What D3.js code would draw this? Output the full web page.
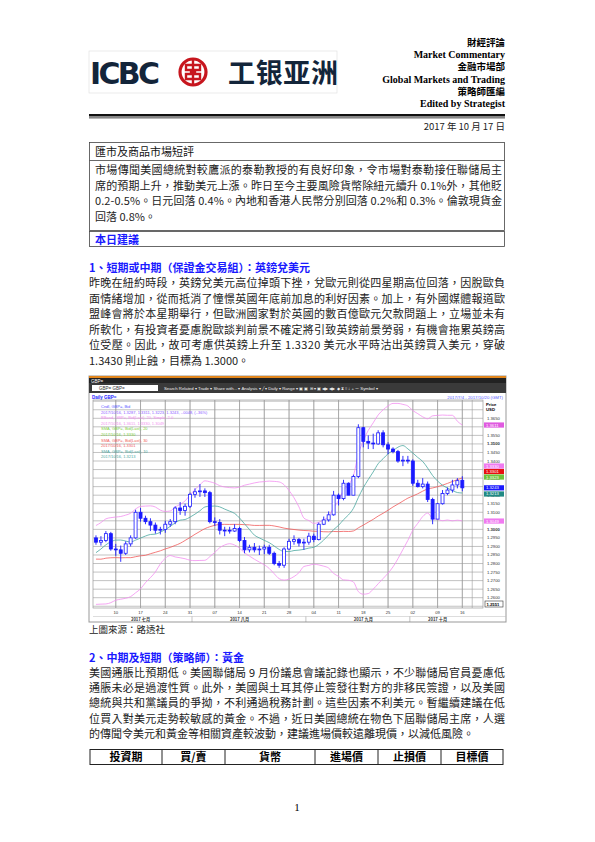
<!DOCTYPE html>
<html><head><meta charset="utf-8">
<script src="https://cdn.jsdelivr.net/npm/d3@7"></script>
<style>body{margin:0;background:#fff}svg{display:block}</style>
</head><body>
<svg id="page" width="595" height="842"></svg>
<script>
// ---- data ----
var dates = ["07-04","07-05","07-06","07-07","07-10","07-11","07-12","07-13","07-14","07-17","07-18","07-19","07-20","07-21","07-24","07-25","07-26","07-27","07-28","07-31",
"08-01","08-02","08-03","08-04","08-07","08-08","08-09","08-10","08-11","08-14","08-15","08-16","08-17","08-18","08-21","08-22","08-23","08-24","08-25","08-28","08-29","08-30","08-31",
"09-01","09-04","09-05","09-06","09-07","09-08","09-11","09-12","09-13","09-14","09-15","09-18","09-19","09-20","09-21","09-22","09-25","09-26","09-27","09-28","09-29",
"10-02","10-03","10-04","10-05","10-06","10-09","10-10","10-11","10-12","10-13","10-16"];
var futureDates = ["10-17","10-18","10-19","10-20"];
var opens = [1.2950,1.2925,1.2935,1.2975,1.2885,1.2880,1.2860,1.2915,1.2950,1.3100,1.3065,1.3045,1.3025,1.2995,1.3000,1.3030,1.3045,1.3125,1.3110,1.3135,
1.3205,1.3220,1.3225,1.3215,1.3045,1.3040,1.2995,1.2995,1.2990,1.3005,1.2935,1.2880,1.2895,1.2880,1.2885,1.2895,1.2860,1.2800,1.2790,1.2885,1.2930,1.2940,1.2920,
1.2925,1.2960,1.2940,1.3030,1.3055,1.3085,1.3200,1.3180,1.3270,1.3200,1.3310,1.3595,1.3515,1.3505,1.3500,1.3565,1.3495,1.3470,1.3455,1.3400,1.3405,
1.3400,1.3270,1.3250,1.3265,1.3175,1.3060,1.3150,1.3210,1.3230,1.3260,1.3287];
var highs = [1.2965,1.2960,1.2990,1.2985,1.2915,1.2905,1.2930,1.2965,1.3115,1.3125,1.3080,1.3065,1.3040,1.3015,1.3050,1.3060,1.3135,1.3160,1.3150,1.3215,
1.3240,1.3265,1.3240,1.3225,1.3070,1.3060,1.3015,1.3015,1.3030,1.3015,1.2955,1.2910,1.2920,1.2905,1.2910,1.2910,1.2870,1.2815,1.2895,1.2945,1.2965,1.2950,1.2945,
1.2980,1.2975,1.3040,1.3075,1.3105,1.3225,1.3210,1.3290,1.3275,1.3320,1.3615,1.3600,1.3550,1.3560,1.3580,1.3580,1.3510,1.3480,1.3465,1.3430,1.3430,
1.3410,1.3290,1.3300,1.3280,1.3185,1.3155,1.3230,1.3245,1.3290,1.3300,1.3311];
var lows = [1.2910,1.2905,1.2925,1.2875,1.2845,1.2810,1.2850,1.2900,1.2945,1.3045,1.3030,1.2990,1.2975,1.2970,1.2980,1.3015,1.3030,1.3085,1.3080,1.3125,
1.3185,1.3190,1.3190,1.3035,1.3020,1.2970,1.2960,1.2975,1.2985,1.2925,1.2860,1.2865,1.2865,1.2850,1.2855,1.2850,1.2790,1.2775,1.2775,1.2880,1.2910,1.2900,1.2880,
1.2910,1.2925,1.2935,1.3025,1.3045,1.3080,1.3140,1.3170,1.3200,1.3200,1.3300,1.3480,1.3470,1.3470,1.3495,1.3480,1.3440,1.3445,1.3390,1.3370,1.3385,
1.3255,1.3245,1.3240,1.3160,1.3030,1.3060,1.3145,1.3200,1.3215,1.3240,1.3223];
var closes = [1.2925,1.2935,1.2975,1.2885,1.2880,1.2860,1.2915,1.2950,1.3100,1.3065,1.3045,1.3025,1.2995,1.3000,1.3030,1.3045,1.3125,1.3110,1.3135,1.3205,
1.3220,1.3225,1.3215,1.3045,1.3040,1.2995,1.2995,1.2990,1.3005,1.2935,1.2880,1.2895,1.2880,1.2885,1.2895,1.2860,1.2800,1.2790,1.2885,1.2930,1.2940,1.2920,1.2925,
1.2960,1.2940,1.3030,1.3055,1.3085,1.3200,1.3180,1.3270,1.3200,1.3310,1.3595,1.3515,1.3505,1.3500,1.3565,1.3495,1.3470,1.3455,1.3400,1.3405,1.3400,
1.3270,1.3250,1.3265,1.3175,1.3060,1.3150,1.3210,1.3230,1.3260,1.3285,1.3243];
// closes before the visible window, used to warm up the indicators
var priorCloses = [1.2990,1.2960,1.2945,1.2800,1.2815,1.2855,1.2895,1.2885,1.2950,1.2930,1.2910,1.2955,1.2750,1.2745,1.2740,1.2700,1.2770,1.2780,1.2745,1.2630,1.2680,1.2660,1.2720,1.2730,1.2710,1.2780,1.2855,1.2975,1.3005,1.2990,1.2945];
var priceTicks = [1.2600,1.2650,1.2700,1.2750,1.2800,1.2850,1.2900,1.2950,1.3000,1.3050,1.3100,1.3150,1.3200,1.3250,1.3300,1.3350,1.3400,1.3450,1.3500,1.3550,1.3600,1.3650];
var weekLabels = [["07-10","10"],["07-17","17"],["07-24","24"],["07-31","31"],["08-07","07"],["08-14","14"],["08-21","21"],["08-28","28"],["09-04","04"],["09-11","11"],["09-18","18"],["09-25","25"],["10-02","02"],["10-09","09"],["10-16","16"]];
var monthLabels = [["07-17","2017 七月"],["08-14","2017 八月"],["09-18","2017 九月"],["10-09","2017 十月"]];
var monthStarts = ["08-01","09-01","10-02"];

var headerRight = ["財經評論","Market Commentary","金融市場部","Global Markets and Trading","策略師匯編","Edited by Strategist"];
var para1 = ["市場傳聞美國總統對較鷹派的泰勒教授的有良好印象，令市場對泰勒接任聯儲局主",
"席的預期上升，推動美元上漲。昨日至今主要風險貨幣除紐元續升 0.1%外，其他貶",
"0.2-0.5%。日元回落 0.4%。內地和香港人民幣分別回落 0.2%和 0.3%。倫敦現貨金",
"回落 0.8%。"];
var para2 = ["昨晚在紐約時段，英鎊兌美元高位掉頭下挫，兌歐元則從四星期高位回落，因脫歐負",
"面情緒增加，從而抵消了憧憬英國年底前加息的利好因素。加上，有外國媒體報道歐",
"盟峰會將於本星期舉行，但歐洲國家對於英國的數百億歐元欠款問題上，立場並未有",
"所軟化，有投資者憂慮脫歐談判前景不確定將引致英鎊前景勞弱，有機會拖累英鎊高",
"位受壓。因此，故可考慮供英鎊上升至 1.3320 美元水平時沽出英鎊買入美元，穿破",
"1.3430 則止蝕，目標為 1.3000。"];
var para3 = ["美國通脹比預期低。美國聯儲局 9 月份議息會議記錄也顯示，不少聯儲局官員憂慮低",
"通脹未必是過渡性質。此外，美國與土耳其停止簽發往對方的非移民簽證，以及美國",
"總統與共和黨議員的爭拗，不利通過稅務計劃。這些因素不利美元。暫繼續建議在低",
"位買入對美元走勢較敏感的黃金。不過，近日美國總統在物色下屆聯儲局主席，人選",
"的傳聞令美元和黃金等相關資產較波動，建議進場價較遠離現價，以減低風險。"];
var tableHead = ["投資期","買/賣","貨幣","進場價","止損價","目標價"];
var tableCols = [90,162,225,315,378,441,503];

var svg = d3.select("#page");
var CJK = "'Noto Sans CJK TC', sans-serif";
var SERIF = "'Liberation Serif', serif";

// ---- header ----
svg.append("rect").attr("x",89).attr("y",51).attr("width",248).attr("height",42).attr("fill","#fff").attr("stroke","#ddd").attr("stroke-width",0.6);
svg.append("text").attr("x",90).attr("y",84).text("ICBC").attr("font-family","'DejaVu Sans', sans-serif").attr("font-weight","bold").attr("font-size",30).attr("fill","#13253a").attr("textLength",70);
svg.append("circle").attr("cx",193).attr("cy",72).attr("r",13).attr("fill","none").attr("stroke","#c7161e").attr("stroke-width",3.2);
svg.append("path").attr("d","M186,65 H200 V70 H195 V74 H200 V79 H186 V74 H191 V70 H186 Z M193,60 V84").attr("fill","none").attr("stroke","#c7161e").attr("stroke-width",2.4);
svg.append("text").attr("x",228).attr("y",83).text("工银亚洲").attr("font-family",CJK).attr("font-weight","bold").attr("font-size",27).attr("fill","#13253a").attr("textLength",110);

svg.selectAll("text.hr").data(headerRight).enter().append("text")
  .attr("x",505).attr("y",function(d,i){return 46+i*12.2;}).attr("text-anchor","end")
  .attr("font-family",function(d,i){return i%2?SERIF:CJK;}).attr("font-weight","bold")
  .attr("font-size",function(d,i){return i%2?10:9.5;})
  .text(function(d){return d;});

svg.append("rect").attr("x",89).attr("y",114).attr("width",416).attr("height",2.5).attr("fill","#111");
svg.append("rect").attr("x",89).attr("y",117.5).attr("width",416).attr("height",0.8).attr("fill","#111");
svg.append("text").attr("x",505).attr("y",130).attr("text-anchor","end").attr("font-family",CJK).attr("font-size",9.5).attr("fill","#222").text("2017 年 10 月 17 日");

// ---- boxes ----
svg.append("rect").attr("x",89.5).attr("y",142.5).attr("width",415).attr("height",88).attr("fill","none").attr("stroke","#444").attr("stroke-width",0.8);
svg.append("line").attr("x1",89.5).attr("x2",504.5).attr("y1",160.5).attr("y2",160.5).attr("stroke","#444").attr("stroke-width",0.8);
svg.append("text").attr("x",95).attr("y",156).attr("font-family",CJK).attr("font-size",11).attr("fill","#111").text("匯市及商品市場短評");
svg.append("rect").attr("x",89.5).attr("y",231.5).attr("width",415).attr("height",15).attr("fill","none").attr("stroke","#444").attr("stroke-width",0.8);
svg.append("text").attr("x",95).attr("y",243.5).attr("font-family",CJK).attr("font-weight","bold").attr("font-size",11).attr("fill","#1a1aff").text("本日建議");

function para(lines, x, y0, lh, w){
  svg.append("g").selectAll("text").data(lines).enter().append("text")
    .attr("x",x).attr("y",function(d,i){return y0+i*lh;})
    .attr("font-family",CJK).attr("font-size",11).attr("fill","#222")
    .attr("textLength",function(d,i){return i<lines.length-1?w:null;})
    .attr("lengthAdjust","spacing")
    .text(function(d){return d;});
}
para(para1,95,174,15.6,407);
svg.append("text").attr("x",89).attr("y",272).attr("font-family",CJK).attr("font-weight","bold").attr("font-size",11).attr("fill","#1a1aff").text("1、短期或中期（保證金交易組）：英鎊兌美元");
para(para2,89,287,15.6,416);

// ---- chart ----
var cx0=89, cx1=506, cy0=376, cy1=622;
var ch = svg.append("g");
ch.append("rect").attr("x",cx0).attr("y",cy0).attr("width",cx1-cx0).attr("height",cy1-cy0).attr("fill","#fff").attr("stroke","#999");
ch.append("rect").attr("x",cx0).attr("y",cy0).attr("width",cx1-cx0).attr("height",2).attr("fill","#e2861c");
ch.append("rect").attr("x",cx0).attr("y",cy0+2).attr("width",cx1-cx0).attr("height",5).attr("fill","#222");
ch.append("text").attr("x",cx0+2).attr("y",cy0+6.5).attr("font-family","Arial,sans-serif").attr("font-size",4.5).attr("fill","#fff").text("GBP=");
ch.append("rect").attr("x",cx0).attr("y",cy0+7).attr("width",cx1-cx0).attr("height",10).attr("fill","#3a3a3a");
ch.append("rect").attr("x",cx0+3).attr("y",cy0+9).attr("width",66).attr("height",6).attr("fill","#fff");
ch.append("text").attr("x",cx0+10).attr("y",cy0+14).attr("font-family","Arial,sans-serif").attr("font-size",4.5).attr("fill","#333").text("GBP=  GBP=");
ch.append("text").attr("x",cx0+75).attr("y",cy0+14).attr("font-family","Arial,sans-serif").attr("font-size",4.3).attr("fill","#eee")
  .text("Search  Related ▾  Trade ▾  Share with...  ▾   Analysis ▾  ╱ ▾  Daily ▾  Range ▾  ▣ ▣ ⊞ ▾ ▣ ◀▶ ◀▶ ◆ ⧗   ⁝⁝  ↓  +  ⁓  Symbol ▾");
ch.append("text").attr("x",cx0+3).attr("y",cy0+22.5).attr("font-family","Arial,sans-serif").attr("font-size",4.5).attr("font-weight","bold").attr("fill","#1a1aff").text("Daily GBP=");
ch.append("text").attr("x",cx1-3).attr("y",cy0+22.5).attr("text-anchor","end").attr("font-family","Arial,sans-serif").attr("font-size",4.3).attr("fill","#5a5aff").text("2017/7/4 - 2017/10/20 (GMT)");

var px0=93, px1=483, py0=400, py1=608;
var x = d3.scaleBand().domain(dates.concat(futureDates)).range([93.5,484.6]);
var y = d3.scaleLinear().domain([1.26,1.365]).range([597.7,418.3]);
var xc = function(d){return x(d)+x.bandwidth()/2;};

ch.append("rect").attr("x",px0).attr("y",py0).attr("width",px1-px0).attr("height",py1-py0).attr("fill","#fff").attr("stroke","#888").attr("stroke-width",0.6);
// grid
ch.append("g").selectAll("line").data(priceTicks.concat([1.3700,1.3750,1.2550])).enter().append("line")
  .attr("x1",px0).attr("x2",px1).attr("y1",function(d){return y(d);}).attr("y2",function(d){return y(d);})
  .attr("stroke","#9a9a9a").attr("stroke-width",0.6);
var vgrid = dates.filter(function(d,i){return i%5==4;}).concat(["10-18"]);
vgrid = vgrid.concat(weekLabels.map(function(w){return w[0];}));
ch.append("g").selectAll("line").data(vgrid).enter().append("line")
  .attr("x1",function(d){return xc(d);}).attr("x2",function(d){return xc(d);}).attr("y1",py0).attr("y2",py1)
  .attr("stroke","#9a9a9a").attr("stroke-width",0.6);

// indicators
var all = priorCloses.concat(closes), off = priorCloses.length;
function sma(n){ return closes.map(function(c,i){ return d3.mean(all.slice(off+i-n+1, off+i+1)); }); }
function sd(n){ return closes.map(function(c,i){ return d3.deviation(all.slice(off+i-n+1, off+i+1)); }); }
var mid20 = sma(20), sd20 = sd(20), ma10 = sma(10), ma30 = sma(30);
var upper = mid20.map(function(m,i){return m+2*sd20[i];}), lower = mid20.map(function(m,i){return m-2*sd20[i];});
var line = d3.line().x(function(d,i){return xc(dates[i]);}).y(function(d){return y(d);}).curve(d3.curveMonotoneX);
var clip = ch.append("clipPath").attr("id","pc").append("rect").attr("x",px0).attr("y",py0).attr("width",px1-px0).attr("height",py1-py0);
var lines = ch.append("g").attr("clip-path","url(#pc)");
lines.append("path").attr("d",line(upper)).attr("fill","none").attr("stroke","#f28ff0").attr("stroke-width",0.8);
lines.append("path").attr("d",line(lower)).attr("fill","none").attr("stroke","#f28ff0").attr("stroke-width",0.8);
lines.append("path").attr("d",line(ma30)).attr("fill","none").attr("stroke","#f05a5a").attr("stroke-width",0.8);
lines.append("path").attr("d",line(ma10)).attr("fill","none").attr("stroke","#4aa7a0").attr("stroke-width",0.8);

// candles
var idx = d3.range(dates.length);
var cw = 3;
var cg = ch.append("g");
cg.selectAll("line").data(idx).enter().append("line")
  .attr("x1",function(i){return xc(dates[i]);}).attr("x2",function(i){return xc(dates[i]);})
  .attr("y1",function(i){return y(highs[i]);}).attr("y2",function(i){return y(lows[i]);})
  .attr("stroke","#1a1aff").attr("stroke-width",0.9);
cg.selectAll("rect").data(idx).enter().append("rect")
  .attr("x",function(i){return xc(dates[i])-cw/2;}).attr("width",cw)
  .attr("y",function(i){return y(Math.max(opens[i],closes[i]));})
  .attr("height",function(i){return Math.max(0.8, Math.abs(y(opens[i])-y(closes[i])));})
  .attr("fill",function(i){return closes[i]>=opens[i]?"#fff":"#1a1aff";})
  .attr("stroke","#1a1aff").attr("stroke-width",0.8);

// legend
var n = closes.length-1, f4 = d3.format(".4f");
var legend = [
 ["Cndl, GBP=, Bid","#5a5aff"],
 ["2017/10/16, "+[opens[n],highs[n],lows[n],closes[n]].map(f4).join(", ")+", -.0048, (-.36%)","#8a5aff"],
 ["BBand, GBP=, Bid(Last), 20, Simple, 2.0","#f28ff0"],
 ["2017/10/16, "+[upper[n],mid20[n],lower[n]].map(f4).join(", "),"#f28ff0"],
 ["SMA, GBP=, Bid(Last), 20","#7ccf3c"],
 ["2017/10/16, "+f4(mid20[n]),"#7ccf3c"],
 ["SMA, GBP=, Bid(Last), 30","#f05a5a"],
 ["2017/10/16, "+f4(ma30[n]),"#f05a5a"],
 ["SMA, GBP=, Bid(Last), 10","#4aa7a0"],
 ["2017/10/16, "+f4(ma10[n]),"#4aa7a0"]];
ch.append("g").selectAll("text").data(legend).enter().append("text")
  .attr("x",101).attr("y",function(d,i){return 408+i*5.6;}).attr("font-family","Arial,sans-serif").attr("font-size",4)
  .attr("fill",function(d){return d[1];}).text(function(d){return d[0];});

// price axis
var ax = ch.append("g");
ax.append("text").attr("x",486).attr("y",406).attr("font-family","Arial,sans-serif").attr("font-size",4.3).attr("font-weight","bold").text("Price");
ax.append("text").attr("x",486).attr("y",411).attr("font-family","Arial,sans-serif").attr("font-size",4.3).attr("font-weight","bold").text("USD");
ax.selectAll("text.pt").data(priceTicks.filter(function(d){return d!=1.36&&d!=1.335&&d!=1.325;})).enter().append("text")
  .attr("x",487).attr("y",function(d){return y(d)+1.5;}).attr("font-family","Arial,sans-serif").attr("font-size",4.2)
  .attr("font-weight",function(d){return d==1.35||d==1.30?"bold":"normal";})
  .attr("fill","#333").text(function(d){return f4(d);});
var tags = [[upper[n],"#e05ae0","#fff"],[mid20[n],"#f07af0","#fff"],[ma30[n],"#e81010","#fff"],[mid20[n]-0.0007,"#6ec43a","#fff"],[closes[n],"#1a1aff","#fff"],[ma10[n],"#208a84","#fff"],[lower[n],"#f07af0","#fff"]];
var tg = ax.selectAll("g.tag").data(tags).enter().append("g");
var tagY = [y(upper[n]), 0, 0, 0, y(closes[n]), y(ma10[n])+1, y(lower[n])];
tagY[1]=y(mid20[n])-7; tagY[2]=tagY[1]+5.5; tagY[3]=tagY[1]+11;
tg.append("rect").attr("x",484).attr("y",function(d,i){return tagY[i]-2.6;}).attr("width",20).attr("height",5.2).attr("fill",function(d){return d[1];});
tg.append("text").attr("x",486).attr("y",function(d,i){return tagY[i]+1.5;}).attr("font-family","Arial,sans-serif").attr("font-size",4.2).attr("fill",function(d){return d[2];}).text(function(d){return f4(d[0]);});
ax.append("rect").attr("x",485).attr("y",601).attr("width",18).attr("height",6).attr("fill","#fff").attr("stroke","#333").attr("stroke-width",0.6);
ax.append("text").attr("x",486.5).attr("y",605.5).attr("font-family","Arial,sans-serif").attr("font-size",4.2).attr("font-weight","bold").text("1.2551");

// time axis
ch.append("g").selectAll("text").data(weekLabels).enter().append("text")
  .attr("x",function(d){return xc(d[0]);}).attr("y",614).attr("text-anchor","middle").attr("font-family","Arial,sans-serif").attr("font-size",4.2).attr("fill","#333")
  .text(function(d){return d[1];});
ch.append("line").attr("x1",px0).attr("x2",cx1).attr("y1",616.5).attr("y2",616.5).attr("stroke","#bbb").attr("stroke-width",0.5);
ch.append("g").selectAll("line").data(monthStarts).enter().append("line")
  .attr("x1",function(d){return x(d)-0.5;}).attr("x2",function(d){return x(d)-0.5;}).attr("y1",616.5).attr("y2",622).attr("stroke","#888").attr("stroke-width",0.5);
ch.append("g").selectAll("text").data(monthLabels).enter().append("text")
  .attr("x",function(d){return xc(d[0]);}).attr("y",620.8).attr("text-anchor","middle").attr("font-family",CJK).attr("font-weight","bold").attr("font-size",4.2).attr("fill","#333")
  .text(function(d){return d[1];});

// ---- lower text ----
svg.append("text").attr("x",89).attr("y",633).attr("font-family",CJK).attr("font-size",9.5).attr("fill","#222").text("上圖來源：路透社");
svg.append("text").attr("x",89).attr("y",662).attr("font-family",CJK).attr("font-weight","bold").attr("font-size",11).attr("fill","#1a1aff").text("2、中期及短期（策略師）：黃金");
para(para3,89,677,15.2,416);
var tb = svg.append("g");
tb.append("rect").attr("x",90).attr("y",749.5).attr("width",413).attr("height",15).attr("fill","none").attr("stroke","#222").attr("stroke-width",1);
tb.selectAll("line").data(tableCols.slice(1,-1)).enter().append("line").attr("x1",function(d){return d;}).attr("x2",function(d){return d;}).attr("y1",749.5).attr("y2",764.5).attr("stroke","#222");
tb.selectAll("text").data(tableHead).enter().append("text")
  .attr("x",function(d,i){return (tableCols[i]+tableCols[i+1])/2;}).attr("y",761).attr("text-anchor","middle")
  .attr("font-family",CJK).attr("font-weight","bold").attr("font-size",11).text(function(d){return d;});
svg.append("text").attr("x",297).attr("y",811).attr("text-anchor","middle").attr("font-family",SERIF).attr("font-size",11).text("1");
</script>
</body></html>
